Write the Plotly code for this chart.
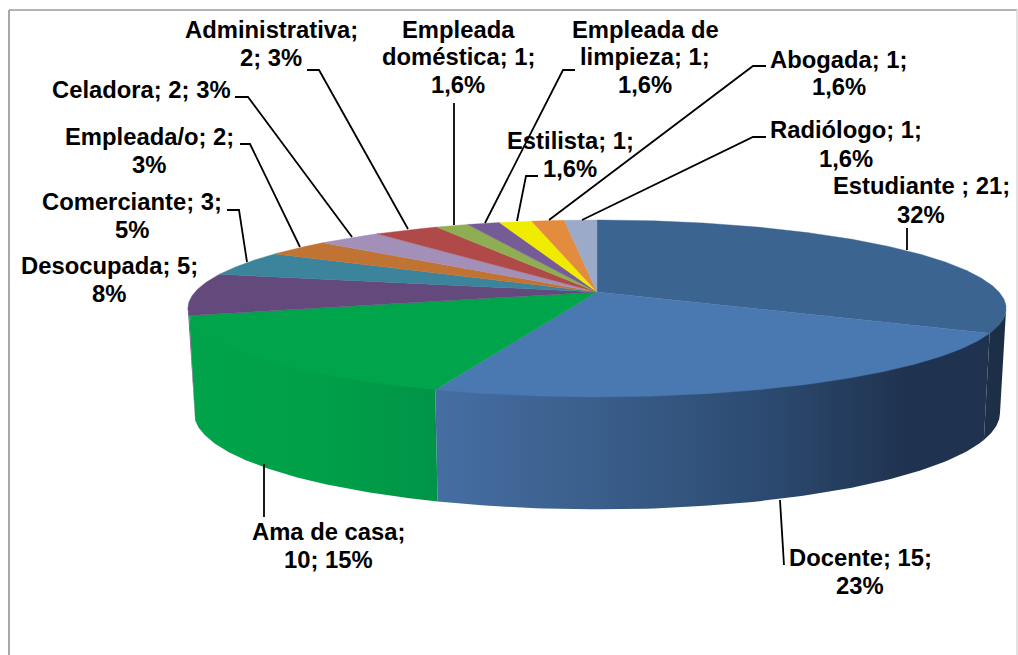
import numpy as np
import plotly.graph_objects as go

# ---- data ----
categories = ["Estudiante ", "Docente", "Ama de casa", "Desocupada", "Comerciante", "Empleada/o",
              "Celadora", "Administrativa", "Empleada doméstica", "Empleada de limpieza",
              "Estilista", "Abogada", "Radiólogo"]
values = [21, 15, 10, 5, 3, 2, 2, 2, 1, 1, 1, 1, 1]
percents = ["32%", "23%", "15%", "8%", "5%", "3%", "3%", "3%", "1,6%", "1,6%", "1,6%", "1,6%", "1,6%"]
top_colors = ["#3B6491", "#4A78B0", "#00A44A", "#644A7C", "#3B849C", "#C07333", "#A390B8",
              "#B04A48", "#8FAE54", "#765C97", "#F0EC00", "#E48C3E", "#9AAAC8"]
wall_scales = {
    0: [[0, "#1E3048"], [1, "#1B2D45"]],
    1: [[0, "#466EA2"], [0.3, "#395E8A"], [0.6, "#2C4A70"], [0.85, "#1F3350"], [1, "#1F3350"]],
    2: [[0, "#00A44A"], [0.5, "#00A049"], [1, "#009448"]],
    3: [[0, "#644A7C"], [1, "#644A7C"]],
}

# ---- projection of the tilted disc (layout constants, in axis units = pixels) ----
CX, CY, RX, A, B = 597.0, 292.0, 402.0, 85.4, 0.186
BOT_DY, BOT_SX, BOT_SY = 103.0, 0.985, 1.09
WALL_OVERLAP = 3.0  # walls run slightly under the top face so no seam shows


def project(theta_deg, bottom=False):
    t = np.radians(theta_deg)
    u, v = np.sin(t), np.cos(t)
    den = 1 + B * v
    x, y = RX * u / den, -A * v / den
    if bottom:
        return CX + x * BOT_SX, CY + BOT_DY + y * BOT_SY
    return CX + x, CY + y


fig = go.Figure()
edges = np.concatenate([[0], np.cumsum(values)]) / sum(values) * 360
vis_start = np.degrees(np.arccos(-B))
vis_end = 360 - vis_start

# side walls
for i in range(len(values)):
    a0, a1 = max(edges[i], vis_start), min(edges[i + 1], vis_end)
    if a1 <= a0:
        continue
    th = np.linspace(a0, a1, 90)
    xt, yt = project(th)
    yt = yt - WALL_OVERLAP * np.sin(np.pi * (th - vis_start) / (vis_end - vis_start))
    xb, yb = project(th[::-1], bottom=True)
    xs = np.concatenate([xt, xb, xt[:1]])
    ys = np.concatenate([yt, yb, yt[:1]])
    fig.add_trace(go.Scatter(
        x=xs, y=ys, mode="lines", line=dict(width=0), fill="toself", hoverinfo="skip",
        showlegend=False, name=categories[i],
        fillgradient=dict(type="horizontal", colorscale=wall_scales[i],
                          start=float(xs.min()), stop=float(xs.max())),
    ))

# top faces
for i in range(len(values)):
    th = np.linspace(edges[i], edges[i + 1], max(6, int((edges[i + 1] - edges[i]) * 2)))
    xt, yt = project(th)
    fig.add_trace(go.Scatter(
        x=np.concatenate([[CX], xt, [CX]]), y=np.concatenate([[CY], yt, [CY]]),
        mode="lines", line=dict(width=0.4, color=top_colors[i]), fill="toself",
        fillcolor=top_colors[i], hoverinfo="skip", showlegend=False, name=categories[i],
    ))

# ---- labels: text lines, centre x, baselines ----
n = {c.strip(): (str(v), p) for c, v, p in zip(categories, values, percents)}
labels = [
    (["Administrativa;", f"{n['Administrativa'][0]}; {n['Administrativa'][1]}"], 271, [37, 65]),
    ([f"Celadora; {n['Celadora'][0]}; {n['Celadora'][1]}"], 141, [97]),
    ([f"Empleada/o; {n['Empleada/o'][0]};", n['Empleada/o'][1]], 149, [144, 172]),
    ([f"Comerciante; {n['Comerciante'][0]};", n['Comerciante'][1]], 132, [209, 237]),
    ([f"Desocupada; {n['Desocupada'][0]};", n['Desocupada'][1]], 109, [273, 301]),
    (["Empleada", f"doméstica; {n['Empleada doméstica'][0]};", n['Empleada doméstica'][1]], 458, [37, 64, 92]),
    (["Empleada de", f"limpieza; {n['Empleada de limpieza'][0]};", n['Empleada de limpieza'][1]], 645, [37, 64, 92]),
    ([f"Estilista; {n['Estilista'][0]};", n['Estilista'][1]], 570, [148, 176]),
    ([f"Abogada; {n['Abogada'][0]};", n['Abogada'][1]], 839, [67, 94]),
    ([f"Radiólogo; {n['Radiólogo'][0]};", n['Radiólogo'][1]], 846, [137, 166]),
    ([f"Estudiante ; {n['Estudiante'][0]};", n['Estudiante'][1]], 921, [193, 222]),
    (["Ama de casa;", f"{n['Ama de casa'][0]}; {n['Ama de casa'][1]}"], 328, [539, 567]),
    ([f"Docente; {n['Docente'][0]};", n['Docente'][1]], 860, [565, 593]),
]
annotations = []
for lines, xc, bases in labels:
    for line, base in zip(lines, bases):
        annotations.append(dict(
            x=xc, y=base - 8, text=line, showarrow=False, xanchor="center", yanchor="middle",
            font=dict(family="Liberation Sans", size=23.8, color="#000000", weight=700),
        ))

# ---- leader lines ----
leaders = [
    [(307, 70), (319, 70), (408, 229)],
    [(235, 97), (248, 97), (352, 237)],
    [(240, 144), (250, 144), (300, 247)],
    [(227, 210), (239, 210), (247, 262)],
    [(454, 103), (454, 225)],
    [(575, 70), (563, 70), (485, 223)],
    [(538, 176), (526, 176), (517, 221)],
    [(766, 66), (753, 66), (549, 220)],
    [(766, 137), (753, 137), (582, 220)],
    [(907, 228), (907, 250)],
    [(264, 464), (264, 517)],
    [(780, 500), (784, 565)],
]
shapes = []
for pts in leaders:
    path = "M " + " L ".join(f"{x},{y}" for x, y in pts)
    shapes.append(dict(type="path", path=path, line=dict(color="#000000", width=1.8), layer="above"))
# chart frame
shapes.append(dict(type="line", x0=9, y0=10, x1=1017, y1=10, line=dict(color="#9A9A9A", width=1.5)))
shapes.append(dict(type="line", x0=9, y0=10, x1=9, y1=655, line=dict(color="#A8A8A8", width=2)))
shapes.append(dict(type="line", x0=1017, y0=10, x1=1017, y1=655, line=dict(color="#D8D8D8", width=1.5)))

fig.update_layout(
    width=1018, height=655, margin=dict(l=0, r=0, t=0, b=0),
    paper_bgcolor="#FFFFFF", plot_bgcolor="#FFFFFF", showlegend=False,
    xaxis=dict(range=[0, 1018], visible=False, fixedrange=True),
    yaxis=dict(range=[655, 0], visible=False, fixedrange=True),
    annotations=annotations, shapes=shapes,
)
fig.write_html("out.html", config={"displayModeBar": False},
               post_script="document.body.style.margin='0';document.body.style.overflow='hidden';")
